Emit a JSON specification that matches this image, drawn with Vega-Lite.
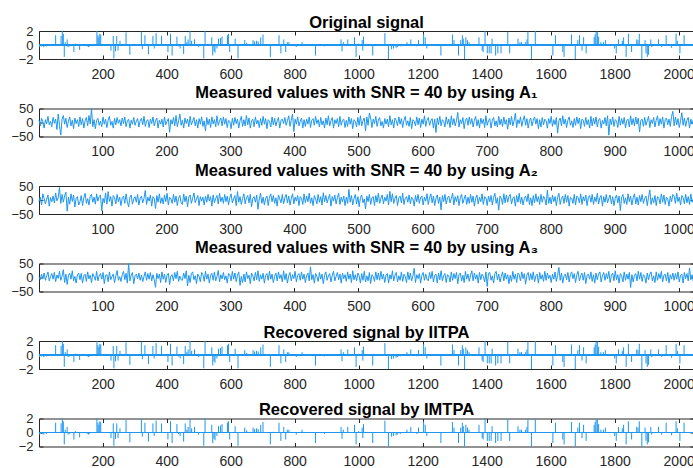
{
"$schema": "https://vega.github.io/schema/vega-lite/v6.json",
"background": "white",
"padding": {"left": 10, "top": 14, "right": 0, "bottom": 0},
"config": {
  "view": {"stroke": "#262626", "strokeWidth": 1},
  "axis": {"domain": false, "grid": false, "tickColor": "#262626", "tickWidth": 1, "tickSize": -4, "labelFont": "Liberation Sans", "labelFontSize": 14, "labelColor": "#262626", "minExtent": 0, "labelFlush": false, "labelOverlap": false, "zindex": 1, "title": null, "format": "d"},
  "axisLeft": {"labelFontSize": 13},
  "title": {"font": "Liberation Sans", "fontSize": 16.5, "fontWeight": "bold", "color": "#000000", "anchor": "middle", "frame": "group", "baseline": "alphabetic"}
},
"datasets": {
"sp": [{"k":3,"v":-0.3},{"k":9,"v":-0.2},{"k":16,"v":-0.3},{"k":24,"v":-0.2},{"k":53,"v":1.4},{"k":70,"v":1.3},{"k":74,"v":2.0},{"k":77,"v":1.6},{"k":80,"v":-1.7},{"k":83,"v":0.4},{"k":89,"v":0.8},{"k":92,"v":-0.3},{"k":97,"v":-0.2},{"k":110,"v":-1.0},{"k":115,"v":0.2},{"k":128,"v":-0.7},{"k":135,"v":-0.1},{"k":152,"v":-0.2},{"k":156,"v":-0.3},{"k":158,"v":-0.2},{"k":182,"v":2.0},{"k":185,"v":1.4},{"k":188,"v":1.1},{"k":191,"v":1.6},{"k":194,"v":1.5},{"k":226,"v":-0.8},{"k":233,"v":1.3},{"k":235,"v":-1.9},{"k":240,"v":-0.9},{"k":244,"v":1.3},{"k":248,"v":-0.8},{"k":254,"v":0.6},{"k":273,"v":1.8},{"k":285,"v":-1.4},{"k":321,"v":1.9},{"k":324,"v":-0.6},{"k":332,"v":1.4},{"k":343,"v":-1.3},{"k":357,"v":1.3},{"k":361,"v":-0.5},{"k":367,"v":1.7},{"k":384,"v":1.3},{"k":404,"v":-1.0},{"k":412,"v":1.6},{"k":417,"v":-1.5},{"k":432,"v":1.2},{"k":437,"v":-0.2},{"k":442,"v":-0.5},{"k":453,"v":-1.3},{"k":458,"v":1.3},{"k":463,"v":0.4},{"k":467,"v":0.8},{"k":473,"v":2.0},{"k":478,"v":0.6},{"k":487,"v":0.8},{"k":500,"v":-0.3},{"k":516,"v":-1.9},{"k":520,"v":2.0},{"k":541,"v":1.1},{"k":544,"v":-1.5},{"k":548,"v":-0.9},{"k":551,"v":-1.1},{"k":557,"v":-0.5},{"k":562,"v":0.9},{"k":568,"v":1.0},{"k":573,"v":1.2},{"k":590,"v":1.4},{"k":593,"v":1.6},{"k":597,"v":-1.0},{"k":614,"v":0.9},{"k":623,"v":-1.9},{"k":644,"v":0.7},{"k":650,"v":0.3},{"k":670,"v":0.7},{"k":675,"v":0.5},{"k":681,"v":0.6},{"k":686,"v":0.5},{"k":694,"v":1.1},{"k":701,"v":1.5},{"k":724,"v":-1.7},{"k":734,"v":0.1},{"k":751,"v":1.4},{"k":757,"v":-1.2},{"k":766,"v":0.8},{"k":772,"v":-1.0},{"k":777,"v":0.4},{"k":782,"v":0.4},{"k":805,"v":-0.3},{"k":823,"v":0.4},{"k":865,"v":-1.5},{"k":893,"v":-0.2},{"k":945,"v":0.8},{"k":948,"v":-0.9},{"k":952,"v":0.4},{"k":966,"v":0.8},{"k":987,"v":1.1},{"k":992,"v":-1.7},{"k":1000,"v":0.2},{"k":1011,"v":0.7},{"k":1013,"v":-0.8},{"k":1015,"v":1.2},{"k":1044,"v":-1.5},{"k":1082,"v":1.7},{"k":1093,"v":-2.0},{"k":1103,"v":-0.6},{"k":1109,"v":-0.5},{"k":1117,"v":-0.4},{"k":1122,"v":-0.3},{"k":1130,"v":-0.2},{"k":1151,"v":0.4},{"k":1163,"v":0.8},{"k":1182,"v":-0.2},{"k":1187,"v":0.7},{"k":1203,"v":1.6},{"k":1208,"v":1.1},{"k":1213,"v":-0.5},{"k":1257,"v":-1.5},{"k":1293,"v":1.5},{"k":1298,"v":0.7},{"k":1312,"v":-1.5},{"k":1319,"v":0.7},{"k":1324,"v":1.4},{"k":1327,"v":0.9},{"k":1331,"v":-2.0},{"k":1335,"v":1.1},{"k":1340,"v":0.7},{"k":1345,"v":0.4},{"k":1376,"v":1.1},{"k":1386,"v":-0.8},{"k":1389,"v":-1.0},{"k":1395,"v":2.0},{"k":1402,"v":-1.2},{"k":1408,"v":-1.2},{"k":1414,"v":-1.2},{"k":1417,"v":0.9},{"k":1428,"v":-1.5},{"k":1435,"v":-1.2},{"k":1445,"v":-1.2},{"k":1466,"v":1.9},{"k":1472,"v":-1.2},{"k":1498,"v":0.9},{"k":1504,"v":0.4},{"k":1509,"v":0.4},{"k":1521,"v":0.4},{"k":1526,"v":0.8},{"k":1529,"v":1.9},{"k":1540,"v":-2.0},{"k":1552,"v":2.0},{"k":1607,"v":-1.5},{"k":1615,"v":1.4},{"k":1638,"v":-1.0},{"k":1642,"v":-1.7},{"k":1665,"v":1.5},{"k":1677,"v":-2.0},{"k":1685,"v":0.7},{"k":1690,"v":1.4},{"k":1698,"v":-0.8},{"k":1703,"v":1.1},{"k":1711,"v":-1.2},{"k":1736,"v":1.1},{"k":1739,"v":1.5},{"k":1742,"v":1.9},{"k":1746,"v":1.9},{"k":1750,"v":1.2},{"k":1757,"v":0.4},{"k":1765,"v":0.4},{"k":1771,"v":0.7},{"k":1800,"v":-0.5},{"k":1805,"v":-1.2},{"k":1812,"v":0.8},{"k":1824,"v":0.6},{"k":1828,"v":1.1},{"k":1836,"v":-1.7},{"k":1843,"v":1.6},{"k":1853,"v":-1.0},{"k":1869,"v":0.8},{"k":1873,"v":0.7},{"k":1877,"v":1.6},{"k":1885,"v":-2.0},{"k":1895,"v":0.7},{"k":1898,"v":-1.2},{"k":1902,"v":-1.7},{"k":1906,"v":-1.4},{"k":1913,"v":0.8},{"k":1916,"v":-0.3},{"k":1937,"v":0.8},{"k":1947,"v":-0.3},{"k":1961,"v":1.4},{"k":1978,"v":-0.4},{"k":1992,"v":1.6},{"k":1996,"v":0.6},{"k":2004,"v":-1.2},{"k":2017,"v":1.4}],
"m": [
{"i":1,"a":8,"b":-5,"c":2},{"i":3,"a":-12,"b":10,"c":-8},{"i":5,"a":15,"b":-18,"c":12},{"i":7,"a":3,"b":22,"c":-4},{"i":9,"a":-20,"b":6,"c":16},{"i":11,"a":10,"b":-14,"c":-10},{"i":13,"a":-5,"b":3,"c":6},{"i":15,"a":22,"b":18,"c":20},{"i":17,"a":-8,"b":-22,"c":-12},{"i":19,"a":4,"b":9,"c":3},{"i":21,"a":-15,"b":-6,"c":14},{"i":23,"a":18,"b":14,"c":-6},{"i":25,"a":-3,"b":-10,"c":18},{"i":27,"a":12,"b":25,"c":-15},{"i":29,"a":-25,"b":-3,"c":9},{"i":31,"a":30,"b":8,"c":-3},
{"i":33,"a":-10,"b":45,"c":22},{"i":35,"a":-45,"b":-12,"c":-10},{"i":37,"a":12,"b":20,"c":5},{"i":39,"a":25,"b":-8,"c":28},{"i":41,"a":-6,"b":15,"c":-18},{"i":43,"a":15,"b":28,"c":12},{"i":45,"a":-18,"b":-40,"c":-25},{"i":47,"a":5,"b":10,"c":8},{"i":49,"a":20,"b":-15,"c":15},{"i":51,"a":-12,"b":22,"c":-6},{"i":53,"a":8,"b":-5,"c":24},{"i":55,"a":-22,"b":18,"c":-12},{"i":57,"a":16,"b":-25,"c":4},{"i":59,"a":-4,"b":6,"c":-20},{"i":61,"a":10,"b":12,"c":10},{"i":63,"a":-15,"b":-18,"c":16},
{"i":65,"a":20,"b":-6,"c":-8},{"i":67,"a":-8,"b":16,"c":15},{"i":69,"a":14,"b":-20,"c":-20},{"i":71,"a":-20,"b":8,"c":6},{"i":73,"a":6,"b":24,"c":12},{"i":75,"a":18,"b":-12,"c":-14},{"i":77,"a":-12,"b":5,"c":20},{"i":79,"a":25,"b":-18,"c":-5},{"i":81,"a":-5,"b":14,"c":8},{"i":83,"a":50,"b":20,"c":-18},{"i":85,"a":-15,"b":-8,"c":14},{"i":87,"a":10,"b":10,"c":3},{"i":89,"a":-22,"b":-15,"c":-10},{"i":91,"a":8,"b":22,"c":22},{"i":93,"a":15,"b":-4,"c":-12},{"i":95,"a":-10,"b":12,"c":6},
{"i":97,"a":5,"b":18,"c":14},{"i":99,"a":-15,"b":-38,"c":-6},{"i":101,"a":20,"b":6,"c":18},{"i":103,"a":-6,"b":-10,"c":-22},{"i":105,"a":12,"b":25,"c":8},{"i":107,"a":-18,"b":-15,"c":10},{"i":109,"a":8,"b":30,"c":-15},{"i":111,"a":22,"b":-5,"c":20},{"i":113,"a":-10,"b":12,"c":-8},{"i":115,"a":4,"b":-22,"c":4},{"i":117,"a":-20,"b":16,"c":12},{"i":119,"a":15,"b":8,"c":-18},{"i":121,"a":-8,"b":-14,"c":6},{"i":123,"a":18,"b":20,"c":25},{"i":125,"a":-3,"b":-6,"c":-10},{"i":127,"a":10,"b":10,"c":3},
{"i":129,"a":-12,"b":-20,"c":-14},{"i":131,"a":16,"b":8,"c":10},{"i":133,"a":-4,"b":14,"c":22},{"i":135,"a":20,"b":-12,"c":-8},{"i":137,"a":-15,"b":22,"c":15},{"i":139,"a":6,"b":-6,"c":-20},{"i":141,"a":12,"b":-25,"c":50},{"i":143,"a":-20,"b":10,"c":-12},{"i":145,"a":8,"b":18,"c":8},{"i":147,"a":-6,"b":-15,"c":18},{"i":149,"a":18,"b":4,"c":-22},{"i":151,"a":-10,"b":12,"c":6},{"i":153,"a":4,"b":-8,"c":12},{"i":155,"a":14,"b":20,"c":-5},{"i":157,"a":-16,"b":-18,"c":16},{"i":159,"a":6,"b":6,"c":-10},
{"i":161,"a":15,"b":14,"c":8},{"i":163,"a":-8,"b":-10,"c":-15},{"i":165,"a":22,"b":6,"c":4},{"i":167,"a":-14,"b":34,"c":20},{"i":169,"a":5,"b":-16,"c":-10},{"i":171,"a":10,"b":10,"c":14},{"i":173,"a":-18,"b":-4,"c":-6},{"i":175,"a":12,"b":18,"c":18},{"i":177,"a":-4,"b":-22,"c":-12},{"i":179,"a":20,"b":12,"c":10},{"i":181,"a":-12,"b":5,"c":-8},{"i":183,"a":6,"b":-30,"c":-35},{"i":185,"a":16,"b":16,"c":15},{"i":187,"a":-20,"b":-8,"c":-4},{"i":189,"a":8,"b":22,"c":12},{"i":191,"a":-6,"b":-12,"c":-18},
{"i":193,"a":12,"b":8,"c":20},{"i":195,"a":-16,"b":-14,"c":-6},{"i":197,"a":20,"b":18,"c":12},{"i":199,"a":-8,"b":-6,"c":-18},{"i":201,"a":4,"b":24,"c":8},{"i":203,"a":14,"b":-18,"c":15},{"i":205,"a":-35,"b":10,"c":-25},{"i":207,"a":10,"b":4,"c":6},{"i":209,"a":-6,"b":-12,"c":10},{"i":211,"a":18,"b":20,"c":-12},{"i":213,"a":-12,"b":-8,"c":18},{"i":215,"a":25,"b":14,"c":-4},{"i":217,"a":-15,"b":-20,"c":22},{"i":219,"a":6,"b":6,"c":-14},{"i":221,"a":30,"b":16,"c":5},{"i":223,"a":-10,"b":-10,"c":-8},
{"i":225,"a":8,"b":-16,"c":-10},{"i":227,"a":-20,"b":22,"c":16},{"i":229,"a":16,"b":-6,"c":-4},{"i":231,"a":-4,"b":14,"c":24},{"i":233,"a":12,"b":-24,"c":-30},{"i":235,"a":-15,"b":10,"c":8},{"i":237,"a":22,"b":18,"c":-18},{"i":239,"a":-8,"b":-12,"c":14},{"i":241,"a":5,"b":6,"c":20},{"i":243,"a":18,"b":25,"c":-8},{"i":245,"a":-12,"b":-10,"c":6},{"i":247,"a":10,"b":4,"c":-22},{"i":249,"a":-20,"b":16,"c":12},{"i":251,"a":14,"b":-20,"c":4},{"i":253,"a":-6,"b":12,"c":-15},{"i":255,"a":20,"b":-4,"c":18},
{"i":257,"a":-14,"b":10,"c":10},{"i":259,"a":6,"b":-18,"c":-14},{"i":261,"a":-30,"b":14,"c":22},{"i":263,"a":18,"b":-8,"c":-6},{"i":265,"a":-8,"b":20,"c":12},{"i":267,"a":12,"b":-4,"c":-20},{"i":269,"a":-18,"b":12,"c":8},{"i":271,"a":20,"b":-22,"c":15},{"i":273,"a":-5,"b":18,"c":-10},{"i":275,"a":10,"b":-10,"c":20},{"i":277,"a":-15,"b":6,"c":-12},{"i":279,"a":24,"b":16,"c":4},{"i":281,"a":-10,"b":-14,"c":25},{"i":283,"a":6,"b":24,"c":-16},{"i":285,"a":16,"b":-6,"c":10},{"i":287,"a":-12,"b":10,"c":-5},
{"i":289,"a":20,"b":-12,"c":18},{"i":291,"a":-6,"b":20,"c":-8},{"i":293,"a":14,"b":-6,"c":6},{"i":295,"a":-18,"b":14,"c":-20},{"i":297,"a":8,"b":-18,"c":14},{"i":299,"a":4,"b":8,"c":10},{"i":301,"a":-22,"b":22,"c":-12},{"i":303,"a":15,"b":-10,"c":22},{"i":305,"a":-10,"b":4,"c":-6},{"i":307,"a":18,"b":16,"c":16},{"i":309,"a":-4,"b":-20,"c":-15},{"i":311,"a":12,"b":30,"c":8},{"i":313,"a":-20,"b":-8,"c":20},{"i":315,"a":6,"b":12,"c":-28},{"i":317,"a":22,"b":-16,"c":4},{"i":319,"a":-14,"b":6,"c":-18},
{"i":321,"a":10,"b":22,"c":12},{"i":323,"a":-12,"b":-14,"c":-16},{"i":325,"a":25,"b":8,"c":20},{"i":327,"a":-8,"b":16,"c":-4},{"i":329,"a":16,"b":-10,"c":8},{"i":331,"a":-20,"b":20,"c":-22},{"i":333,"a":6,"b":-24,"c":16},{"i":335,"a":12,"b":6,"c":6},{"i":337,"a":-15,"b":12,"c":-12},{"i":339,"a":20,"b":-8,"c":18},{"i":341,"a":-5,"b":18,"c":-8},{"i":343,"a":8,"b":-33,"c":24},{"i":345,"a":-18,"b":4,"c":-14},{"i":347,"a":14,"b":24,"c":10},{"i":349,"a":-10,"b":-12,"c":-6},{"i":351,"a":22,"b":10,"c":15},
{"i":353,"a":-6,"b":-18,"c":-20},{"i":355,"a":14,"b":6,"c":8},{"i":357,"a":-22,"b":14,"c":14},{"i":359,"a":10,"b":-20,"c":-10},{"i":361,"a":4,"b":10,"c":22},{"i":363,"a":-16,"b":22,"c":-6},{"i":365,"a":20,"b":-6,"c":12},{"i":367,"a":-8,"b":16,"c":-18},{"i":369,"a":15,"b":-12,"c":4},{"i":371,"a":-12,"b":8,"c":16},{"i":373,"a":6,"b":-22,"c":-12},{"i":375,"a":18,"b":18,"c":20},{"i":377,"a":-20,"b":4,"c":-4},{"i":379,"a":8,"b":-10,"c":10},{"i":381,"a":12,"b":20,"c":-16},{"i":383,"a":-4,"b":-14,"c":24},
{"i":385,"a":18,"b":8,"c":-8},{"i":387,"a":-10,"b":20,"c":14},{"i":389,"a":6,"b":-10,"c":-20},{"i":391,"a":24,"b":14,"c":6},{"i":393,"a":-14,"b":-18,"c":18},{"i":395,"a":8,"b":6,"c":-12},{"i":397,"a":30,"b":22,"c":10},{"i":399,"a":-32,"b":-14,"c":-4},{"i":401,"a":12,"b":10,"c":22},{"i":403,"a":-6,"b":-4,"c":-16},{"i":405,"a":20,"b":16,"c":8},{"i":407,"a":-12,"b":-20,"c":14},{"i":409,"a":4,"b":12,"c":-10},{"i":411,"a":16,"b":6,"c":20},{"i":413,"a":-20,"b":-16,"c":-6},{"i":415,"a":10,"b":22,"c":12},
{"i":417,"a":-14,"b":-10,"c":-18},{"i":419,"a":12,"b":14,"c":6},{"i":421,"a":-6,"b":-6,"c":16},{"i":423,"a":20,"b":24,"c":-12},{"i":425,"a":-18,"b":-12,"c":38},{"i":427,"a":8,"b":8,"c":-8},{"i":429,"a":14,"b":-20,"c":10},{"i":431,"a":-10,"b":16,"c":-20},{"i":433,"a":22,"b":4,"c":14},{"i":435,"a":-4,"b":-14,"c":4},{"i":437,"a":10,"b":20,"c":-14},{"i":439,"a":-16,"b":-8,"c":18},{"i":441,"a":18,"b":12,"c":-6},{"i":443,"a":-8,"b":-18,"c":12},{"i":445,"a":6,"b":26,"c":-22},{"i":447,"a":-20,"b":-6,"c":8},
{"i":449,"a":16,"b":16,"c":20},{"i":451,"a":-8,"b":-10,"c":-10},{"i":453,"a":24,"b":6,"c":6},{"i":455,"a":-12,"b":20,"c":14},{"i":457,"a":6,"b":-22,"c":-16},{"i":459,"a":18,"b":12,"c":8},{"i":461,"a":-20,"b":-4,"c":22},{"i":463,"a":10,"b":18,"c":-12},{"i":465,"a":-4,"b":-14,"c":4},{"i":467,"a":14,"b":8,"c":18},{"i":469,"a":-16,"b":24,"c":-8},{"i":471,"a":22,"b":-16,"c":12},{"i":473,"a":-10,"b":10,"c":-20},{"i":475,"a":8,"b":-6,"c":16},{"i":477,"a":12,"b":14,"c":-4},{"i":479,"a":-18,"b":-20,"c":10},
{"i":481,"a":8,"b":10,"c":-14},{"i":483,"a":-14,"b":-12,"c":20},{"i":485,"a":20,"b":38,"c":-6},{"i":487,"a":-6,"b":-8,"c":12},{"i":489,"a":14,"b":16,"c":-18},{"i":491,"a":-22,"b":-18,"c":24},{"i":493,"a":10,"b":6,"c":-8},{"i":495,"a":4,"b":20,"c":10},{"i":497,"a":-16,"b":-14,"c":-12},{"i":499,"a":18,"b":12,"c":16},{"i":501,"a":-10,"b":-24,"c":6},{"i":503,"a":24,"b":8,"c":-20},{"i":505,"a":-12,"b":18,"c":14},{"i":507,"a":6,"b":-10,"c":-10},{"i":509,"a":16,"b":4,"c":22},{"i":511,"a":-30,"b":-32,"c":-16},
{"i":513,"a":20,"b":14,"c":6},{"i":515,"a":-10,"b":-6,"c":-12},{"i":517,"a":34,"b":20,"c":18},{"i":519,"a":16,"b":-16,"c":-22},{"i":521,"a":-18,"b":8,"c":10},{"i":523,"a":12,"b":12,"c":4},{"i":525,"a":-4,"b":-20,"c":-14},{"i":527,"a":22,"b":16,"c":20},{"i":529,"a":-14,"b":-8,"c":-8},{"i":531,"a":8,"b":24,"c":16},{"i":533,"a":18,"b":-12,"c":-10},{"i":535,"a":-12,"b":6,"c":22},{"i":537,"a":4,"b":18,"c":-6},{"i":539,"a":-20,"b":-14,"c":12},{"i":541,"a":14,"b":10,"c":-18},{"i":543,"a":-6,"b":-4,"c":8},
{"i":545,"a":12,"b":20,"c":14},{"i":547,"a":-16,"b":-18,"c":-20},{"i":549,"a":24,"b":31,"c":10},{"i":551,"a":-8,"b":-6,"c":-6},{"i":553,"a":10,"b":22,"c":24},{"i":555,"a":-20,"b":-12,"c":-12},{"i":557,"a":16,"b":6,"c":8},{"i":559,"a":6,"b":16,"c":18},{"i":561,"a":-12,"b":-20,"c":-16},{"i":563,"a":20,"b":8,"c":6},{"i":565,"a":-6,"b":14,"c":-10},{"i":567,"a":14,"b":-10,"c":20},{"i":569,"a":-18,"b":24,"c":-14},{"i":571,"a":8,"b":-16,"c":12},{"i":573,"a":22,"b":6,"c":4},{"i":575,"a":-10,"b":12,"c":-18},
{"i":577,"a":6,"b":-8,"c":20},{"i":579,"a":-14,"b":18,"c":-8},{"i":581,"a":18,"b":-14,"c":16},{"i":583,"a":-22,"b":10,"c":-12},{"i":585,"a":10,"b":4,"c":6},{"i":587,"a":4,"b":-22,"c":33},{"i":589,"a":-12,"b":16,"c":-18},{"i":591,"a":20,"b":-6,"c":10},{"i":593,"a":-8,"b":20,"c":-4},{"i":595,"a":16,"b":-12,"c":14},{"i":597,"a":-18,"b":8,"c":-20},{"i":599,"a":12,"b":14,"c":8},{"i":601,"a":-6,"b":-18,"c":18},{"i":603,"a":24,"b":10,"c":-10},{"i":605,"a":-14,"b":-4,"c":12},{"i":607,"a":8,"b":22,"c":-6},
{"i":609,"a":18,"b":-16,"c":-12},{"i":611,"a":-10,"b":8,"c":18},{"i":613,"a":6,"b":22,"c":-4},{"i":615,"a":14,"b":-10,"c":22},{"i":617,"a":-20,"b":14,"c":-16},{"i":619,"a":12,"b":-20,"c":8},{"i":621,"a":-36,"b":6,"c":12},{"i":623,"a":16,"b":18,"c":-20},{"i":625,"a":-8,"b":-12,"c":16},{"i":627,"a":22,"b":10,"c":-8},{"i":629,"a":-12,"b":-35,"c":24},{"i":631,"a":10,"b":16,"c":-12},{"i":633,"a":4,"b":-6,"c":6},{"i":635,"a":-16,"b":20,"c":14},{"i":637,"a":20,"b":-14,"c":-18},{"i":639,"a":-6,"b":8,"c":10},
{"i":641,"a":12,"b":14,"c":6},{"i":643,"a":-18,"b":-10,"c":-16},{"i":645,"a":24,"b":6,"c":20},{"i":647,"a":-8,"b":24,"c":-10},{"i":649,"a":14,"b":-18,"c":14},{"i":651,"a":-12,"b":12,"c":-4},{"i":653,"a":6,"b":-6,"c":18},{"i":655,"a":36,"b":16,"c":-22},{"i":657,"a":-16,"b":-20,"c":10},{"i":659,"a":10,"b":8,"c":16},{"i":661,"a":-4,"b":20,"c":-12},{"i":663,"a":18,"b":-12,"c":8},{"i":665,"a":-22,"b":4,"c":-18},{"i":667,"a":8,"b":18,"c":22},{"i":669,"a":16,"b":-16,"c":-6},{"i":671,"a":-10,"b":10,"c":12},
{"i":673,"a":20,"b":-12,"c":-14},{"i":675,"a":-6,"b":20,"c":8},{"i":677,"a":14,"b":-8,"c":24},{"i":679,"a":-16,"b":14,"c":-12},{"i":681,"a":8,"b":-22,"c":16},{"i":683,"a":22,"b":6,"c":-6},{"i":685,"a":-12,"b":18,"c":10},{"i":687,"a":10,"b":-14,"c":-20},{"i":689,"a":-20,"b":10,"c":18},{"i":691,"a":16,"b":-6,"c":-8},{"i":693,"a":-4,"b":22,"c":12},{"i":695,"a":12,"b":-16,"c":4},{"i":697,"a":-18,"b":12,"c":-16},{"i":699,"a":24,"b":8,"c":20},{"i":701,"a":-10,"b":-20,"c":-32},{"i":703,"a":6,"b":14,"c":14},
{"i":705,"a":14,"b":-6,"c":18},{"i":707,"a":-20,"b":16,"c":-10},{"i":709,"a":8,"b":-18,"c":6},{"i":711,"a":18,"b":10,"c":-20},{"i":713,"a":-12,"b":24,"c":14},{"i":715,"a":6,"b":-12,"c":22},{"i":717,"a":-16,"b":8,"c":-8},{"i":719,"a":22,"b":-36,"c":12},{"i":721,"a":-8,"b":14,"c":-16},{"i":723,"a":12,"b":6,"c":4},{"i":725,"a":-14,"b":-16,"c":20},{"i":727,"a":20,"b":22,"c":-12},{"i":729,"a":-6,"b":-10,"c":16},{"i":731,"a":10,"b":18,"c":-6},{"i":733,"a":-24,"b":-8,"c":10},{"i":735,"a":16,"b":12,"c":-22},
{"i":737,"a":-8,"b":20,"c":8},{"i":739,"a":22,"b":-14,"c":-14},{"i":741,"a":-12,"b":6,"c":22},{"i":743,"a":6,"b":12,"c":-6},{"i":745,"a":33,"b":-22,"c":12},{"i":747,"a":-18,"b":16,"c":-18},{"i":749,"a":10,"b":-8,"c":16},{"i":751,"a":-4,"b":24,"c":10},{"i":753,"a":20,"b":-12,"c":-12},{"i":755,"a":-14,"b":10,"c":20},{"i":757,"a":8,"b":-18,"c":-4},{"i":759,"a":24,"b":6,"c":14},{"i":761,"a":-10,"b":14,"c":-24},{"i":763,"a":14,"b":-6,"c":8},{"i":765,"a":-20,"b":22,"c":18},{"i":767,"a":6,"b":-16,"c":-10},
{"i":769,"a":16,"b":8,"c":14},{"i":771,"a":-12,"b":-20,"c":-8},{"i":773,"a":8,"b":16,"c":20},{"i":775,"a":20,"b":-10,"c":-16},{"i":777,"a":-6,"b":22,"c":6},{"i":779,"a":14,"b":-6,"c":12},{"i":781,"a":-22,"b":12,"c":-20},{"i":783,"a":10,"b":-16,"c":18},{"i":785,"a":-16,"b":20,"c":-6},{"i":787,"a":18,"b":-8,"c":10},{"i":789,"a":-8,"b":14,"c":-14},{"i":791,"a":12,"b":4,"c":22},{"i":793,"a":6,"b":-18,"c":-10},{"i":795,"a":-20,"b":35,"c":16},{"i":797,"a":14,"b":-12,"c":-4},{"i":799,"a":-4,"b":10,"c":8},
{"i":801,"a":22,"b":-14,"c":-18},{"i":803,"a":-14,"b":18,"c":12},{"i":805,"a":10,"b":-6,"c":-6},{"i":807,"a":-8,"b":12,"c":20},{"i":809,"a":18,"b":-20,"c":-14},{"i":811,"a":-38,"b":10,"c":8},{"i":813,"a":6,"b":24,"c":36},{"i":815,"a":16,"b":-16,"c":-10},{"i":817,"a":-12,"b":6,"c":16},{"i":819,"a":24,"b":14,"c":-20},{"i":821,"a":-6,"b":-12,"c":6},{"i":823,"a":12,"b":20,"c":12},{"i":825,"a":-18,"b":-8,"c":-8},{"i":827,"a":8,"b":16,"c":18},{"i":829,"a":20,"b":-22,"c":-16},{"i":831,"a":-10,"b":10,"c":10},
{"i":833,"a":6,"b":6,"c":20},{"i":835,"a":-18,"b":-12,"c":-4},{"i":837,"a":14,"b":20,"c":14},{"i":839,"a":-10,"b":-18,"c":-18},{"i":841,"a":20,"b":14,"c":10},{"i":843,"a":-4,"b":8,"c":22},{"i":845,"a":16,"b":-10,"c":-12},{"i":847,"a":-22,"b":22,"c":6},{"i":849,"a":12,"b":-16,"c":16},{"i":851,"a":8,"b":12,"c":-10},{"i":853,"a":-14,"b":-4,"c":18},{"i":855,"a":18,"b":18,"c":-22},{"i":857,"a":-8,"b":-20,"c":8},{"i":859,"a":10,"b":10,"c":12},{"i":861,"a":-20,"b":16,"c":-6},{"i":863,"a":22,"b":-8,"c":20},
{"i":865,"a":-12,"b":20,"c":-14},{"i":867,"a":16,"b":-16,"c":10},{"i":869,"a":-6,"b":10,"c":-20},{"i":871,"a":20,"b":-6,"c":16},{"i":873,"a":-16,"b":24,"c":-8},{"i":875,"a":10,"b":-14,"c":12},{"i":877,"a":14,"b":8,"c":20},{"i":879,"a":-20,"b":16,"c":-16},{"i":881,"a":8,"b":-22,"c":6},{"i":883,"a":-6,"b":12,"c":18},{"i":885,"a":18,"b":-8,"c":-10},{"i":887,"a":-12,"b":20,"c":14},{"i":889,"a":24,"b":-10,"c":-4},{"i":891,"a":-45,"b":6,"c":22},{"i":893,"a":12,"b":18,"c":-18},{"i":895,"a":-8,"b":-14,"c":8},
{"i":897,"a":20,"b":12,"c":16},{"i":899,"a":-14,"b":-20,"c":-12},{"i":901,"a":10,"b":6,"c":24},{"i":903,"a":6,"b":18,"c":-8},{"i":905,"a":-18,"b":-10,"c":10},{"i":907,"a":22,"b":14,"c":-20},{"i":909,"a":-10,"b":-38,"c":14},{"i":911,"a":14,"b":10,"c":6},{"i":913,"a":-6,"b":20,"c":-16},{"i":915,"a":18,"b":-12,"c":20},{"i":917,"a":-20,"b":8,"c":-10},{"i":919,"a":8,"b":-16,"c":12},{"i":921,"a":12,"b":22,"c":-6},{"i":923,"a":-16,"b":-6,"c":18},{"i":925,"a":24,"b":14,"c":-36},{"i":927,"a":-8,"b":-18,"c":10},
{"i":929,"a":14,"b":8,"c":-16},{"i":931,"a":-12,"b":22,"c":8},{"i":933,"a":20,"b":-14,"c":14},{"i":935,"a":-6,"b":10,"c":-12},{"i":937,"a":16,"b":-18,"c":22},{"i":939,"a":-34,"b":16,"c":-6},{"i":941,"a":8,"b":-6,"c":18},{"i":943,"a":12,"b":20,"c":-14},{"i":945,"a":-14,"b":-12,"c":10},{"i":947,"a":18,"b":6,"c":4},{"i":949,"a":-10,"b":14,"c":-20},{"i":951,"a":6,"b":-20,"c":16},{"i":953,"a":22,"b":10,"c":-8},{"i":955,"a":-18,"b":36,"c":12},{"i":957,"a":10,"b":-16,"c":20},{"i":959,"a":-4,"b":8,"c":-12},
{"i":961,"a":18,"b":-10,"c":6},{"i":963,"a":-16,"b":16,"c":-18},{"i":965,"a":8,"b":-20,"c":20},{"i":967,"a":24,"b":12,"c":-10},{"i":969,"a":-12,"b":6,"c":14},{"i":971,"a":14,"b":-14,"c":-4},{"i":973,"a":-6,"b":22,"c":22},{"i":975,"a":20,"b":-8,"c":-16},{"i":977,"a":-20,"b":18,"c":8},{"i":979,"a":10,"b":-16,"c":12},{"i":981,"a":16,"b":10,"c":-12},{"i":983,"a":-8,"b":4,"c":18},{"i":985,"a":12,"b":-22,"c":-20},{"i":987,"a":-14,"b":14,"c":10},{"i":989,"a":22,"b":-6,"c":-6},{"i":991,"a":40,"b":20,"c":16},
{"i":993,"a":-12,"b":14,"c":-10},{"i":995,"a":20,"b":-12,"c":14},{"i":997,"a":-8,"b":24,"c":-6},{"i":999,"a":14,"b":-6,"c":20},{"i":1001,"a":-18,"b":10,"c":-16},{"i":1003,"a":6,"b":-18,"c":8},{"i":1005,"a":35,"b":16,"c":12},{"i":1007,"a":-10,"b":8,"c":-20},{"i":1009,"a":16,"b":-14,"c":18},{"i":1011,"a":-14,"b":20,"c":-4},{"i":1013,"a":8,"b":-10,"c":14},{"i":1015,"a":18,"b":12,"c":-12},{"i":1017,"a":-20,"b":-16,"c":34},{"i":1019,"a":12,"b":22,"c":-8},{"i":1021,"a":-6,"b":-8,"c":10},{"i":1023,"a":10,"b":6,"c":-14}
]
},
"spacing": 49.5,
"bounds": "flush",
"vconcat": [
{
 "width": 655, "height": 28,
 "title": {"text": "Original signal", "offset": -6},
 "data": {"name": "sp"},
 "layer": [
  {"mark": {"type": "rule", "color": "#1E96F0", "strokeWidth": 1, "opacity": 0.75}, "encoding": {"y": {"datum": 0, "type": "quantitative", "scale": {"domain": [-2, 2], "nice": false}, "axis": null}}},
  {"mark": {"type": "rule", "color": "#1E96F0", "strokeWidth": 1}, "encoding": {
    "x": {"field": "k", "type": "quantitative", "scale": {"domain": [1, 2048], "nice": false, "zero": false}, "axis": {"orient": "bottom", "values": [200,400,600,800,1000,1200,1400,1600,1800,2000], "labelPadding": 12}},
    "y": {"field": "v", "type": "quantitative", "scale": {"domain": [-2, 2], "nice": false}, "axis": {"orient": "left", "values": [-2, 0, 2], "labelPadding": 10}},
    "y2": {"datum": 0}}},
  {"mark": {"type": "point", "opacity": 0}, "encoding": {
    "x": {"field": "k", "type": "quantitative", "scale": {"domain": [1, 2048], "nice": false, "zero": false}, "axis": {"orient": "top", "values": [200,400,600,800,1000,1200,1400,1600,1800,2000], "labels": false}},
    "y": {"field": "v", "type": "quantitative", "scale": {"domain": [-2, 2], "nice": false}, "axis": {"orient": "right", "values": [-2, 0, 2], "labels": false}}}}
 ],
 "resolve": {"axis": {"x": "independent", "y": "independent"}}
},
{
 "width": 655, "height": 28,
 "title": {"text": "Measured values with SNR = 40 by using A₁", "offset": 1},
 "data": {"name": "m"},
 "layer": [
  {"mark": {"type": "line", "color": "#1E96F0", "strokeWidth": 1}, "encoding": {
    "x": {"field": "i", "type": "quantitative", "scale": {"domain": [1, 1024], "nice": false, "zero": false}, "axis": {"orient": "bottom", "values": [100,200,300,400,500,600,700,800,900,1000], "labelPadding": 12}},
    "y": {"field": "a", "type": "quantitative", "scale": {"domain": [-50, 50], "nice": false}, "axis": {"orient": "left", "values": [-50, 0, 50], "labelPadding": 10}}}},
  {"mark": {"type": "point", "opacity": 0}, "encoding": {
    "x": {"field": "i", "type": "quantitative", "scale": {"domain": [1, 1024], "nice": false, "zero": false}, "axis": {"orient": "top", "values": [100,200,300,400,500,600,700,800,900,1000], "labels": false}},
    "y": {"field": "a", "type": "quantitative", "scale": {"domain": [-50, 50], "nice": false}, "axis": {"orient": "right", "values": [-50, 0, 50], "labels": false}}}}
 ],
 "resolve": {"axis": {"x": "independent", "y": "independent"}}
},
{
 "width": 655, "height": 28,
 "title": {"text": "Measured values with SNR = 40 by using A₂", "offset": 1},
 "data": {"name": "m"},
 "layer": [
  {"mark": {"type": "line", "color": "#1E96F0", "strokeWidth": 1}, "encoding": {
    "x": {"field": "i", "type": "quantitative", "scale": {"domain": [1, 1024], "nice": false, "zero": false}, "axis": {"orient": "bottom", "values": [100,200,300,400,500,600,700,800,900,1000], "labelPadding": 12}},
    "y": {"field": "b", "type": "quantitative", "scale": {"domain": [-50, 50], "nice": false}, "axis": {"orient": "left", "values": [-50, 0, 50], "labelPadding": 10}}}},
  {"mark": {"type": "point", "opacity": 0}, "encoding": {
    "x": {"field": "i", "type": "quantitative", "scale": {"domain": [1, 1024], "nice": false, "zero": false}, "axis": {"orient": "top", "values": [100,200,300,400,500,600,700,800,900,1000], "labels": false}},
    "y": {"field": "b", "type": "quantitative", "scale": {"domain": [-50, 50], "nice": false}, "axis": {"orient": "right", "values": [-50, 0, 50], "labels": false}}}}
 ],
 "resolve": {"axis": {"x": "independent", "y": "independent"}}
},
{
 "width": 655, "height": 28,
 "title": {"text": "Measured values with SNR = 40 by using A₃", "offset": 1},
 "data": {"name": "m"},
 "layer": [
  {"mark": {"type": "line", "color": "#1E96F0", "strokeWidth": 1}, "encoding": {
    "x": {"field": "i", "type": "quantitative", "scale": {"domain": [1, 1024], "nice": false, "zero": false}, "axis": {"orient": "bottom", "values": [100,200,300,400,500,600,700,800,900,1000], "labelPadding": 12}},
    "y": {"field": "c", "type": "quantitative", "scale": {"domain": [-50, 50], "nice": false}, "axis": {"orient": "left", "values": [-50, 0, 50], "labelPadding": 10}}}},
  {"mark": {"type": "point", "opacity": 0}, "encoding": {
    "x": {"field": "i", "type": "quantitative", "scale": {"domain": [1, 1024], "nice": false, "zero": false}, "axis": {"orient": "top", "values": [100,200,300,400,500,600,700,800,900,1000], "labels": false}},
    "y": {"field": "c", "type": "quantitative", "scale": {"domain": [-50, 50], "nice": false}, "axis": {"orient": "right", "values": [-50, 0, 50], "labels": false}}}}
 ],
 "resolve": {"axis": {"x": "independent", "y": "independent"}}
},
{
 "width": 655, "height": 28,
 "title": {"text": "Recovered signal by IITPA", "offset": -6},
 "data": {"name": "sp"},
 "layer": [
  {"mark": {"type": "rule", "color": "#1E96F0", "strokeWidth": 1, "opacity": 0.75}, "encoding": {"y": {"datum": 0, "type": "quantitative", "scale": {"domain": [-2, 2], "nice": false}, "axis": null}}},
  {"mark": {"type": "rule", "color": "#1E96F0", "strokeWidth": 1}, "encoding": {
    "x": {"field": "k", "type": "quantitative", "scale": {"domain": [1, 2048], "nice": false, "zero": false}, "axis": {"orient": "bottom", "values": [200,400,600,800,1000,1200,1400,1600,1800,2000], "labelPadding": 12}},
    "y": {"field": "v", "type": "quantitative", "scale": {"domain": [-2, 2], "nice": false}, "axis": {"orient": "left", "values": [-2, 0, 2], "labelPadding": 10}},
    "y2": {"datum": 0}}},
  {"mark": {"type": "point", "opacity": 0}, "encoding": {
    "x": {"field": "k", "type": "quantitative", "scale": {"domain": [1, 2048], "nice": false, "zero": false}, "axis": {"orient": "top", "values": [200,400,600,800,1000,1200,1400,1600,1800,2000], "labels": false}},
    "y": {"field": "v", "type": "quantitative", "scale": {"domain": [-2, 2], "nice": false}, "axis": {"orient": "right", "values": [-2, 0, 2], "labels": false}}}}
 ],
 "resolve": {"axis": {"x": "independent", "y": "independent"}}
},
{
 "width": 655, "height": 28,
 "title": {"text": "Recovered signal by IMTPA", "offset": -6},
 "data": {"name": "sp"},
 "layer": [
  {"mark": {"type": "rule", "color": "#1E96F0", "strokeWidth": 1, "opacity": 0.75}, "encoding": {"y": {"datum": 0, "type": "quantitative", "scale": {"domain": [-2, 2], "nice": false}, "axis": null}}},
  {"mark": {"type": "rule", "color": "#1E96F0", "strokeWidth": 1}, "encoding": {
    "x": {"field": "k", "type": "quantitative", "scale": {"domain": [1, 2048], "nice": false, "zero": false}, "axis": {"orient": "bottom", "values": [200,400,600,800,1000,1200,1400,1600,1800,2000], "labelPadding": 12}},
    "y": {"field": "v", "type": "quantitative", "scale": {"domain": [-2, 2], "nice": false}, "axis": {"orient": "left", "values": [-2, 0, 2], "labelPadding": 10}},
    "y2": {"datum": 0}}},
  {"mark": {"type": "point", "opacity": 0}, "encoding": {
    "x": {"field": "k", "type": "quantitative", "scale": {"domain": [1, 2048], "nice": false, "zero": false}, "axis": {"orient": "top", "values": [200,400,600,800,1000,1200,1400,1600,1800,2000], "labels": false}},
    "y": {"field": "v", "type": "quantitative", "scale": {"domain": [-2, 2], "nice": false}, "axis": {"orient": "right", "values": [-2, 0, 2], "labels": false}}}}
 ],
 "resolve": {"axis": {"x": "independent", "y": "independent"}}
}
]
}
